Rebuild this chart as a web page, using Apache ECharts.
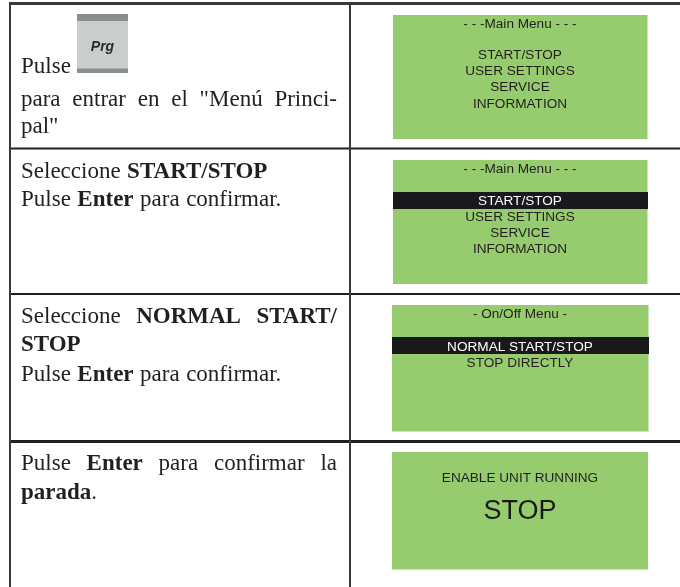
<!DOCTYPE html>
<html>
<head>
<meta charset="utf-8">
<style>html,body{margin:0;padding:0;background:#fff}#main{width:680px;height:587px}</style>
<script src="https://cdn.jsdelivr.net/npm/echarts@6/dist/echarts.min.js"></script>
</head>
<body>
<div id="main"></div>
<script>
// each line: words, "*" prefix = bold, "J" last = justified
var row1Text = [['Pulse'], ['para', 'entrar', 'en', 'el', '"Menú', 'Princi-', 'J'], ['pal"']];
var row2Text = [['Seleccione', '*START/STOP'], ['Pulse', '*Enter', 'para', 'confirmar.']];
var row3Text = [['Seleccione', '*NORMAL', '*START/', 'J'], ['*STOP'], ['Pulse', '*Enter', 'para', 'confirmar.']];
var row4Text = [['Pulse', '*Enter', 'para', 'confirmar', 'la', 'J'], ['*parada', '.']];

var menuTitle = '- - -Main Menu - - -';
var menuItems = ['START/STOP', 'USER SETTINGS', 'SERVICE', 'INFORMATION'];
var onOffTitle = '- On/Off Menu -';
var onOffItems = ['NORMAL START/STOP', 'STOP DIRECTLY'];
var enableText = 'ENABLE UNIT RUNNING';
var stopText = 'STOP';
var keyLabel = 'Prg';

var chart = echarts.init(document.getElementById('main'));
var els = [];
var serif = '"Liberation Serif"';
var sans = '"Liberation Sans"';
var ctx = document.createElement('canvas').getContext('2d');

function rect(x, y, w, h, fill) {
    els.push({type: 'rect', shape: {x: x, y: y, width: w, height: h}, style: {fill: fill}});
}
function label(str, x, y, size, color, font, weight, align) {
    els.push({type: 'text', x: x, y: y, style: {
        text: str, fill: color, fontFamily: font, fontSize: size,
        fontWeight: weight || 'normal', align: align || 'left', verticalAlign: 'middle'
    }});
}
// left column text, justified between 21 and 337 when the line asks for it
function block(lines, ys) {
    var size = 23;
    lines.forEach(function (line, i) {
        var just = line[line.length - 1] === 'J';
        var words = just ? line.slice(0, -1) : line;
        var widths = words.map(function (w) {
            var bold = w[0] === '*';
            ctx.font = (bold ? 'bold ' : '') + size + 'px ' + serif;
            return ctx.measureText(bold ? w.slice(1) : w).width;
        });
        var total = widths.reduce(function (a, b) { return a + b; }, 0);
        var gap = just ? (337 - 21 - total) / (words.length - 1) : 6.5;
        var x = 21;
        words.forEach(function (w, k) {
            var bold = w[0] === '*';
            if (w === '.') x -= gap;
            label(bold ? w.slice(1) : w, x, ys[i], size, '#231f20', serif, bold ? 'bold' : 'normal');
            x += widths[k] + gap;
        });
    });
}
function menu(px, py, pw, ph, title, items, barY, firstY) {
    rect(px, py, pw, ph, '#96cc6e');
    var cx = 520;
    label(title, cx, py + 9.5, 13.6, '#231f20', sans, 'normal', 'center');
    if (barY) rect(px, barY, pw + 0.5, 17, '#18181d');
    items.forEach(function (it, i) {
        label(it, cx, firstY + i * 16.1, 13.6, (barY && i === 0) ? '#ffffff' : '#231f20', sans, 'normal', 'center');
    });
}

// grid lines of the table
rect(9, 2, 671, 3, '#3a3a3c');
rect(9, 147.5, 671, 2, '#231f20');
rect(9, 293, 671, 2, '#231f20');
rect(9, 440, 671, 3, '#231f20');
rect(9, 2, 2, 585, '#3a3a3c');
rect(349, 2, 2, 585, '#3a3a3c');

// Prg key
rect(77, 14, 51, 59, '#c9cdcc');
rect(77, 14, 51, 7, '#8a8d8d');
rect(77, 68.5, 51, 4.5, '#8a8d8d');
label(keyLabel, 102.5, 47, 14, '#2b2b2d', sans, 'bold', 'center');
els[els.length - 1].style.fontStyle = 'italic';

block(row1Text, [67, 100, 127]);
block(row2Text, [172, 200]);
block(row3Text, [317, 345, 375]);
block(row4Text, [464, 493]);

menu(393, 15, 254.5, 124, menuTitle, menuItems, 0, 55.5);
menu(393, 160, 254.5, 124, menuTitle, menuItems, 192, 201);
menu(392, 305, 256.5, 126.5, onOffTitle, onOffItems, 337, 347);

rect(392, 452, 256, 117.5, '#96cc6e');
label(enableText, 520, 478, 13.6, '#231f20', sans, 'normal', 'center');
label(stopText, 520, 512, 27, '#1a1a1a', sans, 'normal', 'center');

option = {
    animation: false,
    backgroundColor: '#ffffff',
    graphic: {elements: els}
};
chart.setOption(option);
</script>
</body>
</html>
